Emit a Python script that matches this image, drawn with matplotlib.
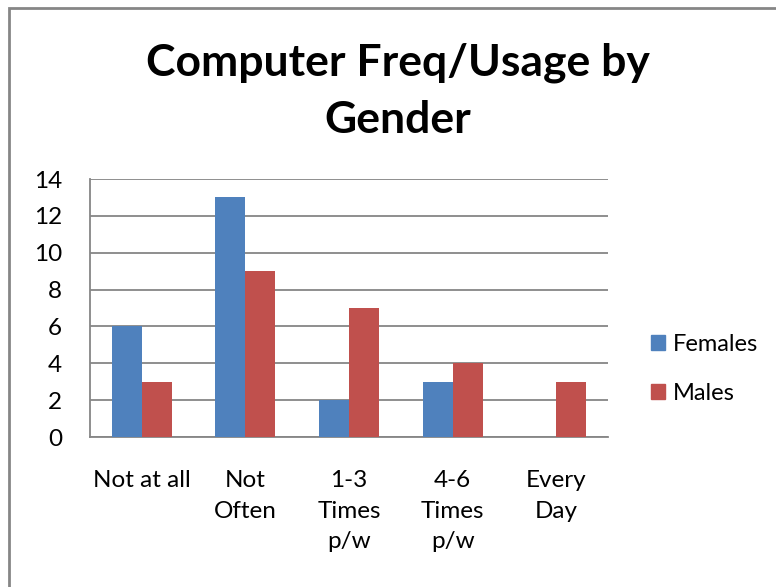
import matplotlib
matplotlib.use("Agg")
import matplotlib.pyplot as plt
import matplotlib.patches as mpatches
import numpy as np

plt.rcParams.update({
    "font.family": ["Lato", "DejaVu Sans"],
    "font.size": 17.5,
})

# data
categories = ["Not at all", "Not\nOften", "1-3\nTimes\np/w", "4-6\nTimes\np/w", "Every\nDay"]
females = [6, 13, 2, 3, 0]
males = [3, 9, 7, 4, 3]

C_FEM = "#4F81BD"
C_MAL = "#C0504D"
C_GRID = "#868686"

fig = plt.figure(figsize=(7.76, 5.87), dpi=100)
ax = fig.add_axes([90 / 776, 150 / 587, 518 / 776, 258 / 587])

x = np.arange(len(categories))
w = 0.29
ax.bar(x - w / 2, females, w, color=C_FEM, label="Females", zorder=3)
ax.bar(x + w / 2, males, w, color=C_MAL, label="Males", zorder=3)

ax.set_xlim(-0.5, len(categories) - 0.5)
ax.set_ylim(0, 14)
ax.set_yticks(range(0, 15, 2))
ax.yaxis.grid(True, color=C_GRID, lw=1.3, zorder=0)
ax.set_xticks(x)
ax.set_xticklabels(categories, linespacing=1.55, va="top")
ax.tick_params(axis="x", length=0, pad=24, labelsize=17.5)
ax.tick_params(axis="y", length=0, pad=20, labelsize=17.5)
for s in ["top", "right"]:
    ax.spines[s].set_visible(False)
for s in ["left", "bottom"]:
    ax.spines[s].set_color(C_GRID)
    ax.spines[s].set_linewidth(1.3)

fig.text(398 / 776, 1 - 63 / 587, "Computer Freq/Usage by", ha="center", va="center",
         fontsize=32, fontweight="bold")
fig.text(398 / 776, 1 - 120 / 587, "Gender", ha="center", va="center",
         fontsize=32, fontweight="bold")

# legend
fig.legend(handles=[mpatches.Patch(color=C_FEM, label="Females"),
                    mpatches.Patch(color=C_MAL, label="Males")],
           loc="center left", bbox_to_anchor=(630 / 776, 1 - 369 / 587),
           frameon=False, fontsize=17, handlelength=0.6, handleheight=0.6,
           handletextpad=0.3, labelspacing=1.2)

# chart border
fig.add_artist(plt.Rectangle((9 / 776, -0.1), 1.2, 1 - 8 / 587 + 0.1,
                             transform=fig.transFigure, fill=False,
                             edgecolor=C_GRID, lw=2))

fig.savefig("out.png", dpi=100, facecolor="white")
